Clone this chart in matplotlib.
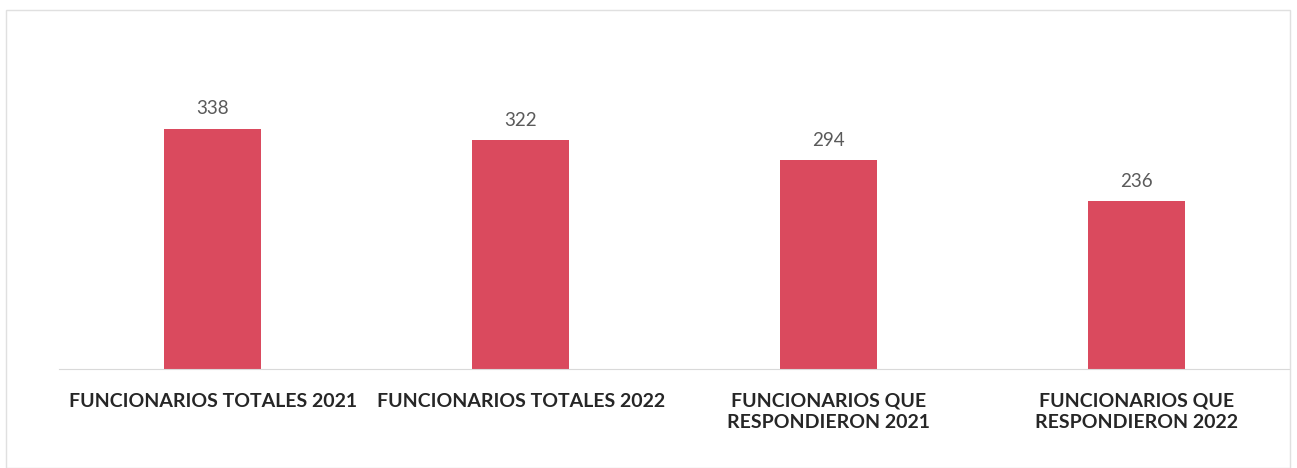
import matplotlib.pyplot as plt
from matplotlib.patches import Rectangle

categories = ["FUNCIONARIOS TOTALES 2021", "FUNCIONARIOS TOTALES 2022",
              "FUNCIONARIOS QUE\nRESPONDIERON 2021", "FUNCIONARIOS QUE\nRESPONDIERON 2022"]
values = [338, 322, 294, 236]

plt.rcParams['font.family'] = ['Lato', 'DejaVu Sans']

fig = plt.figure(figsize=(12.97, 4.68), dpi=100)
ax = fig.add_axes([59 / 1297, 99 / 468, (1290 - 59) / 1297, (369 - 40) / 468])

x = list(range(len(values)))
bars = ax.bar(x, values, width=0.315, color="#DA4A5E")
for b, v in zip(bars, values):
    ax.text(b.get_x() + b.get_width() / 2, v + 16, str(v), ha="center", va="bottom",
            fontsize=13.5, color="#5a5a5a")

ax.set_xlim(-0.5, 3.5)
ax.set_ylim(0, 463)
ax.set_yticks([])
ax.set_xticks(x)
ax.set_xticklabels(categories, fontsize=14, fontweight="bold", color="#262626",
                   linespacing=1.3, va="top")
ax.tick_params(axis="x", length=0, pad=17)
for s in ["top", "right", "left"]:
    ax.spines[s].set_visible(False)
ax.spines["bottom"].set_color("#d9d9d9")

# light frame of the chart area
fig.patches.append(Rectangle((6 / 1297, 0), 1284 / 1297, 458 / 468, transform=fig.transFigure,
                             fill=False, edgecolor="#e0e0e0", linewidth=1))

fig.savefig("out.png", dpi=100)
